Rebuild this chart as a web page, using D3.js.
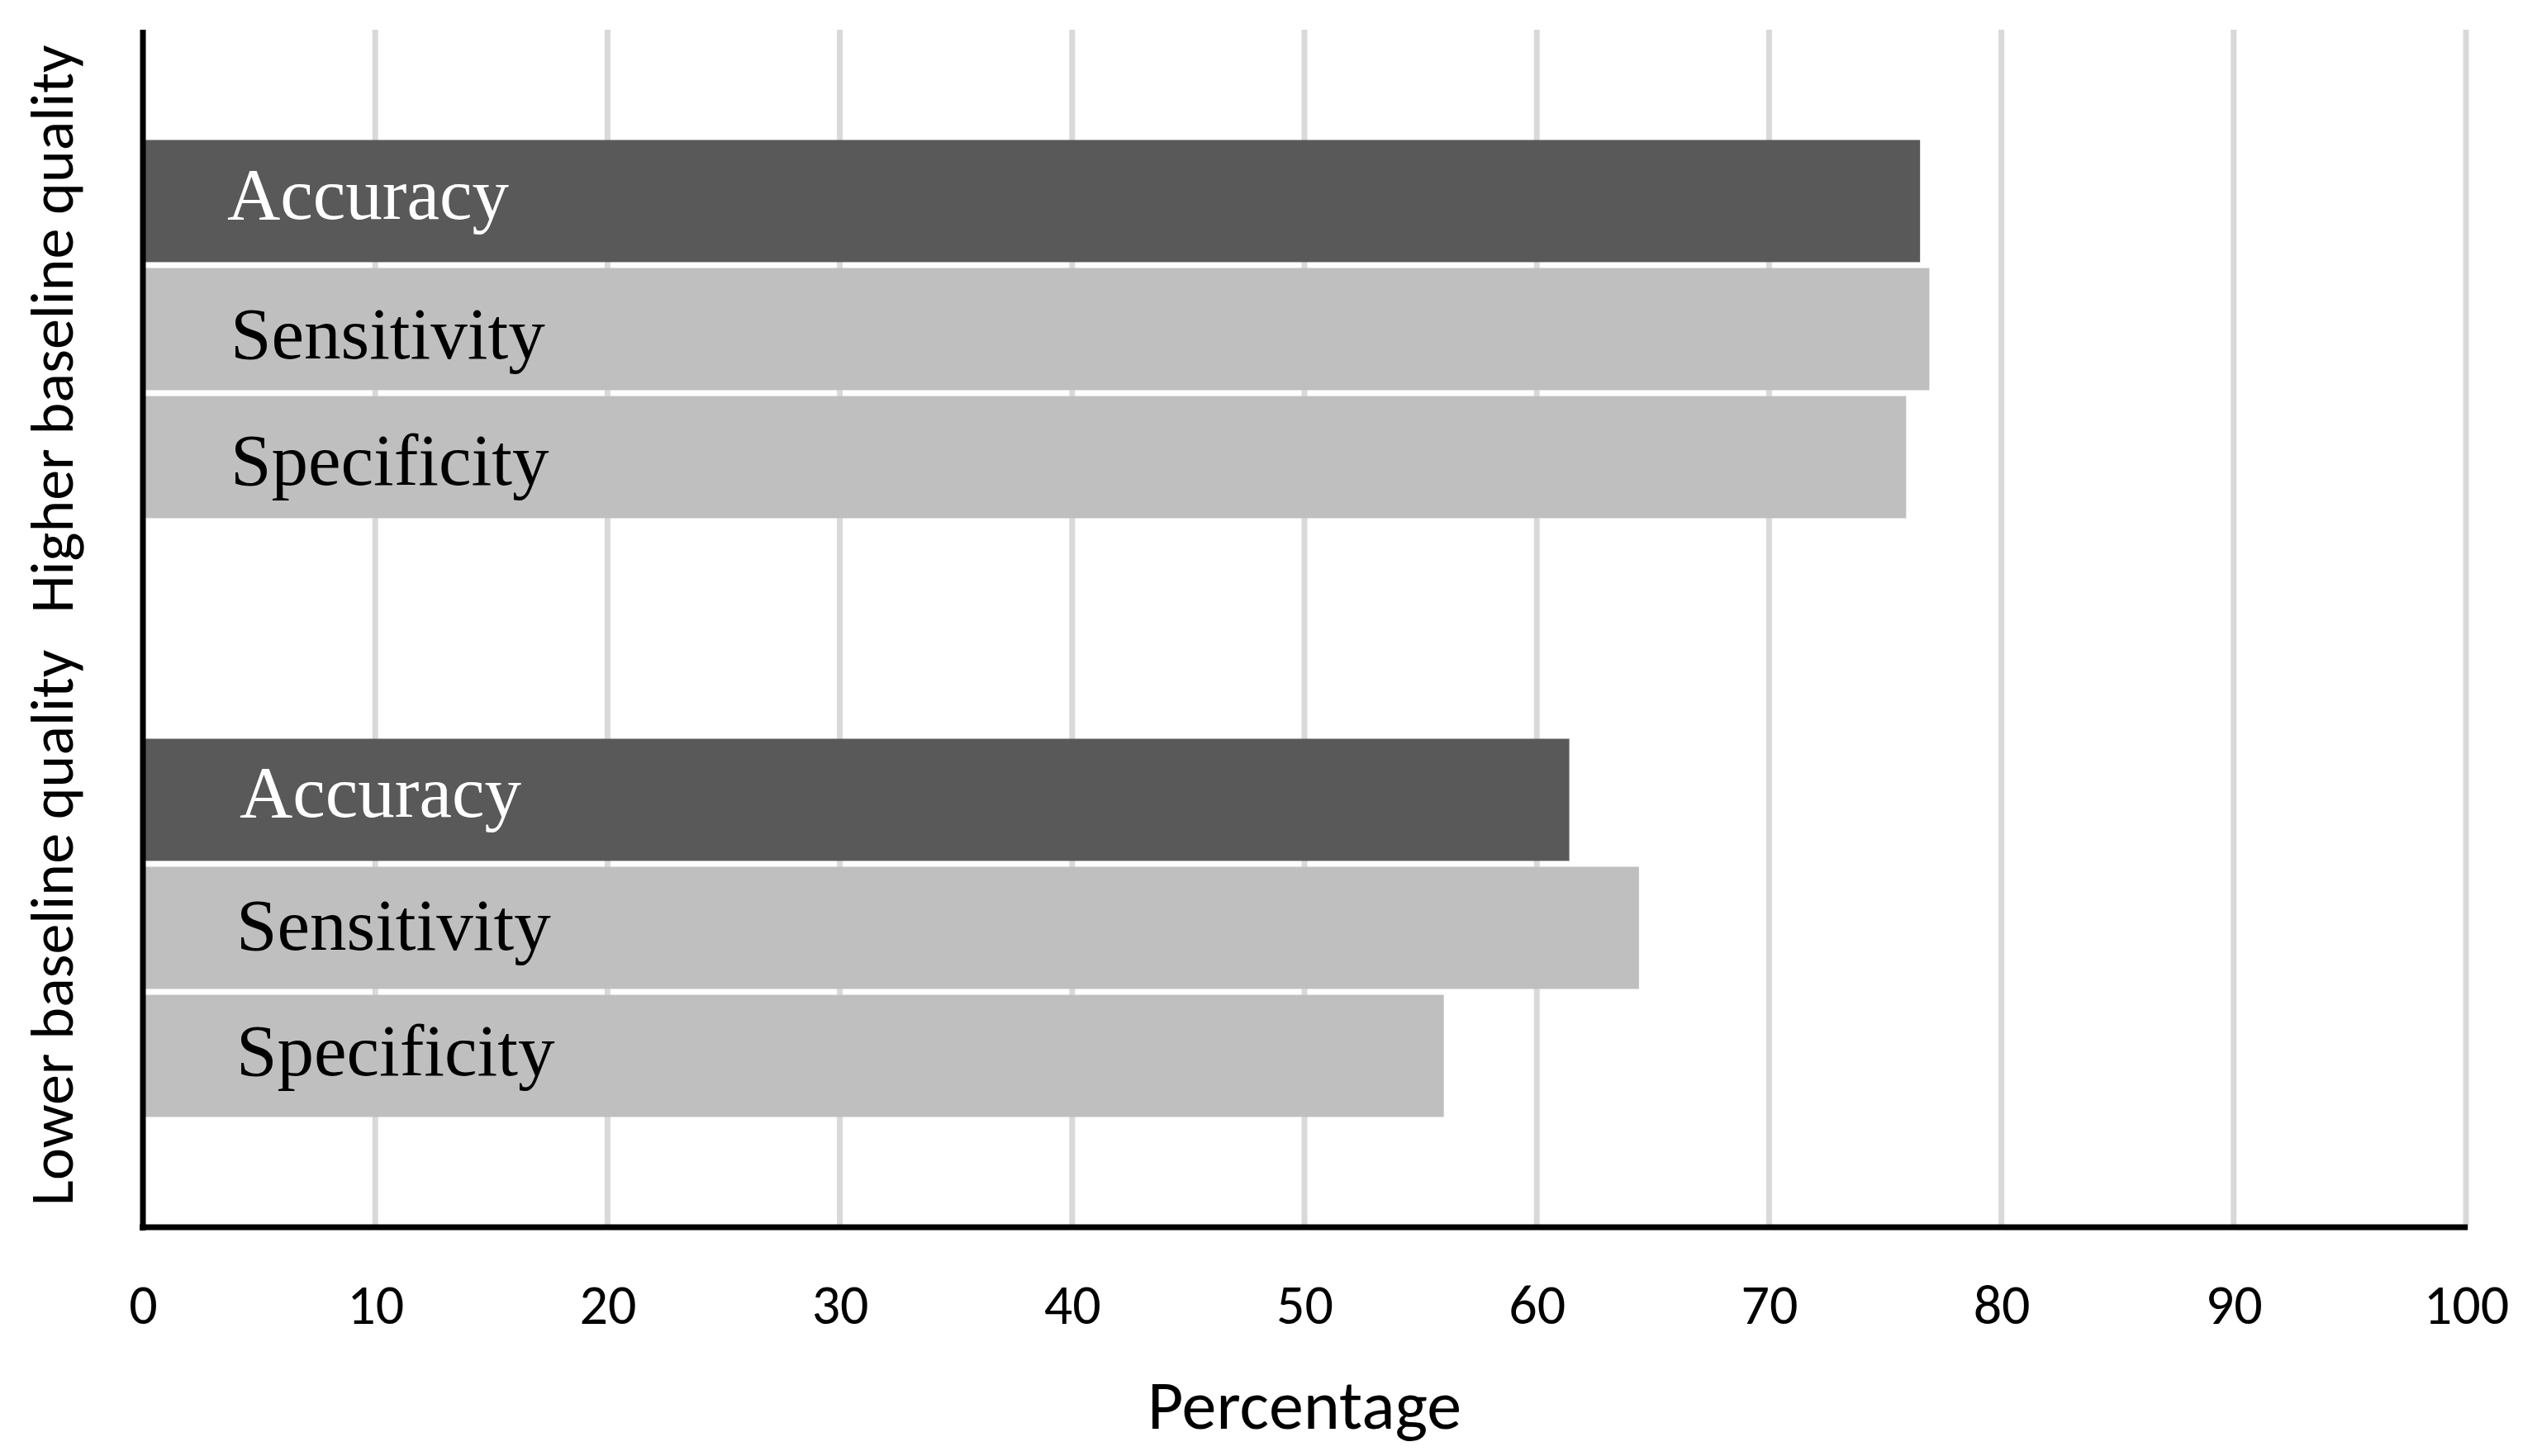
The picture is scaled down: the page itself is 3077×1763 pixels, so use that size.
<!DOCTYPE html>
<html>
<head>
<meta charset="utf-8">
<script src="https://cdn.jsdelivr.net/npm/d3@7"></script>
<style>
  html, body { margin: 0; padding: 0; background: #fff; }
  svg { display: block; }
</style>
</head>
<body>
<div id="chart"></div>
<script>
// Horizontal grouped bars: accuracy / sensitivity / specificity by baseline quality

const groups = ['Higher baseline quality', 'Lower baseline quality'];
const measures = ['Accuracy', 'Sensitivity', 'Specificity'];
const higherValues = [76.5, 76.9, 75.9];
const lowerValues = [61.4, 64.4, 56.0];
const xTicks = [0, 10, 20, 30, 40, 50, 60, 70, 80, 90, 100];
const xTitle = 'Percentage';

const W = 3077, H = 1763;
const plot = { left: 173, right: 2985, top: 36, bottom: 1486 };

const colors = { Accuracy: '#595959', Sensitivity: '#bfbfbf', Specificity: '#bfbfbf' };
const labelColors = { Accuracy: '#ffffff', Sensitivity: '#000000', Specificity: '#000000' };
// hand-placed data labels in the original: [dx from zero line, dy from bar centre]
const labelNudge = [
  [[102, 22], [106, 35], [106, 33]],
  [[117, 21], [113, 26], [113, 23]],
];

const rows = [];
groups.forEach((g, gi) => {
  const vals = gi === 0 ? higherValues : lowerValues;
  measures.forEach((m, mi) => rows.push({ group: g, gi, measure: m, mi, value: vals[mi] }));
});

const svg = d3.select('#chart').append('svg')
  .attr('width', W)
  .attr('height', H);

const x = d3.scaleLinear().domain([0, 100]).range([plot.left, plot.right]);
const y0 = d3.scaleBand().domain(groups)
  .range([plot.top, plot.bottom])
  .paddingInner(0.3683)
  .paddingOuter(0.18415);
const y1 = d3.scaleBand().domain(measures)
  .range([0, y0.bandwidth()])
  .paddingInner(0.046);

// gridlines
svg.append('g').selectAll('line')
  .data(xTicks.filter(t => t > 0))
  .join('line')
  .attr('x1', d => x(d)).attr('x2', d => x(d))
  .attr('y1', plot.top).attr('y2', plot.bottom + 2)
  .attr('stroke', '#d9d9d9')
  .attr('stroke-width', 7);

// bars
svg.append('g').selectAll('rect')
  .data(rows)
  .join('rect')
  .attr('x', x(0))
  .attr('y', d => y0(d.group) + y1(d.measure))
  .attr('width', d => x(d.value) - x(0))
  .attr('height', y1.bandwidth())
  .attr('fill', d => colors[d.measure]);

// labels inside bars
svg.append('g').selectAll('text')
  .data(rows)
  .join('text')
  .attr('x', d => x(0) + labelNudge[d.gi][d.mi][0])
  .attr('y', d => y0(d.group) + y1(d.measure) + y1.bandwidth() / 2 + labelNudge[d.gi][d.mi][1])
  .attr('fill', d => labelColors[d.measure])
  .style('font-family', '"Palatino Linotype", "Book Antiqua", "Liberation Serif", serif')
  .style('font-size', '89px')
  .text(d => d.measure);

// x axis
const xAxis = svg.append('g')
  .attr('transform', `translate(0,${plot.bottom})`)
  .call(d3.axisBottom(x).tickValues(xTicks).tickSize(0).tickPadding(69).tickFormat(d3.format('d')));
xAxis.select('.domain')
  .attr('d', `M${plot.left - 4},0H${plot.right + 2}`)
  .attr('stroke', '#000')
  .attr('stroke-width', 7);
xAxis.selectAll('.tick text')
  .attr('fill', '#000')
  .style('font-family', 'Calibri, Carlito, Lato, sans-serif')
  .style('font-size', '68px');

// y axis (categories, no ticks)
const yAxis = svg.append('g')
  .attr('transform', `translate(${plot.left},0)`)
  .call(d3.axisLeft(y0).tickSize(0).tickFormat(''));
yAxis.select('.domain')
  .attr('d', `M0,${plot.top}V${plot.bottom + 4}`)
  .attr('stroke', '#000')
  .attr('stroke-width', 7);

svg.append('g').selectAll('text')
  .data(groups)
  .join('text')
  .attr('transform', d => `translate(88,${y0(d) + y0.bandwidth() / 2}) rotate(-90)`)
  .attr('text-anchor', 'middle')
  .style('font-family', 'Calibri, Carlito, Lato, sans-serif')
  .style('font-size', '74px')
  .text(d => d);

svg.append('text')
  .attr('x', (plot.left + plot.right) / 2)
  .attr('y', 1730)
  .attr('text-anchor', 'middle')
  .style('font-family', 'Calibri, Carlito, Lato, sans-serif')
  .style('font-size', '84px')
  .text(xTitle);
</script>
</body>
</html>
